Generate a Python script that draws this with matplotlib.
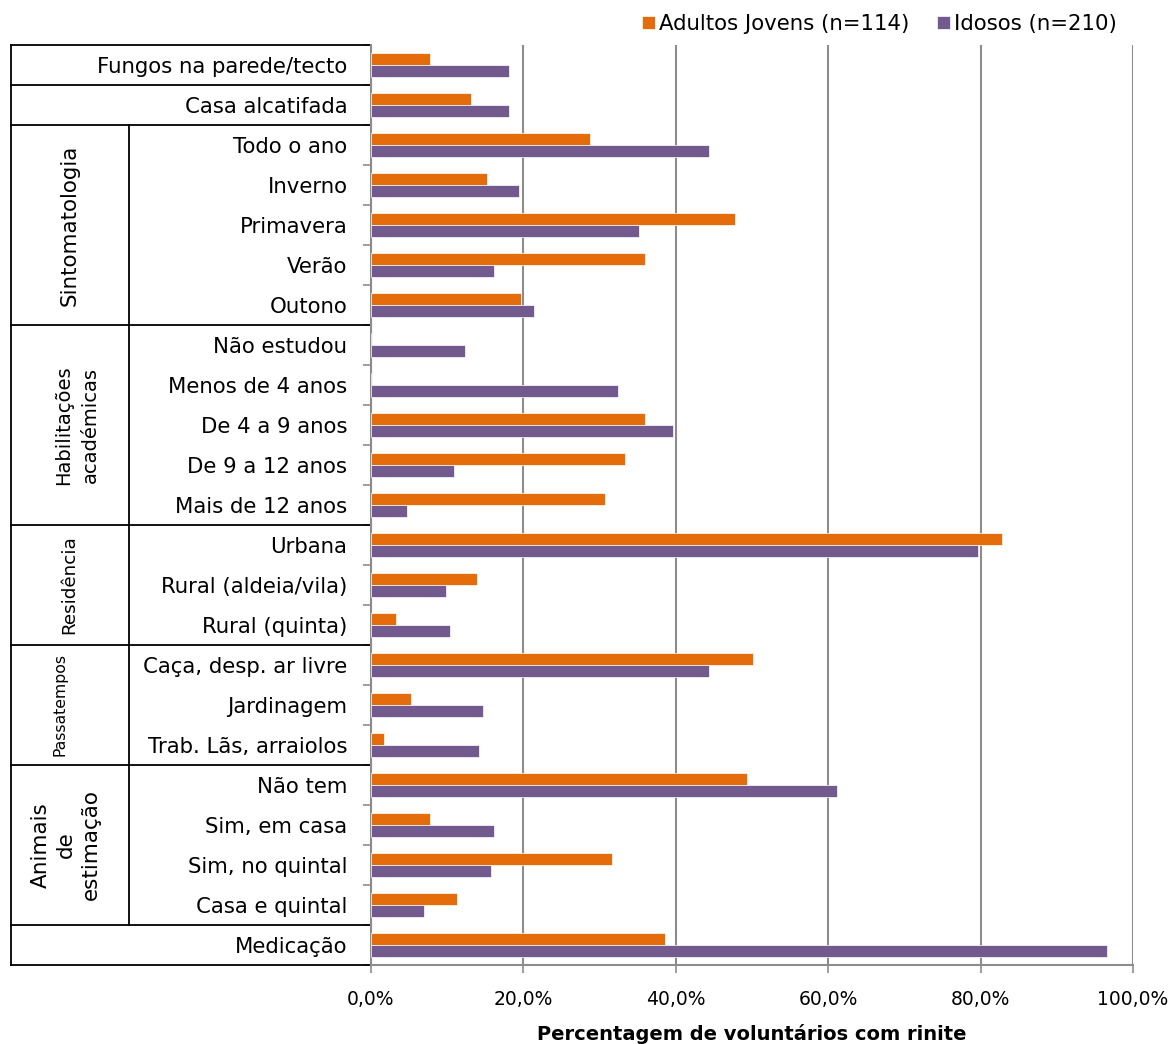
import numpy as np
import matplotlib.pyplot as plt

# categories top to bottom
labels = ["Fungos na parede/tecto", "Casa alcatifada",
          "Todo o ano", "Inverno", "Primavera", "Verão", "Outono",
          "Não estudou", "Menos de 4 anos", "De 4 a 9 anos", "De 9 a 12 anos", "Mais de 12 anos",
          "Urbana", "Rural (aldeia/vila)", "Rural (quinta)",
          "Caça, desp. ar livre", "Jardinagem", "Trab. Lãs, arraiolos",
          "Não tem", "Sim, em casa", "Sim, no quintal", "Casa e quintal",
          "Medicação"]

adultos = [7.8, 13.1, 28.8, 15.2, 47.8, 36.0, 19.7,
           0.0, 0.0, 36.0, 33.3, 30.7,
           82.8, 13.9, 3.3,
           50.1, 5.2, 1.7,
           49.3, 7.8, 31.6, 11.3,
           38.6]
idosos = [18.1, 18.1, 44.4, 19.4, 35.2, 16.1, 21.4,
          12.4, 32.4, 39.6, 10.9, 4.7,
          79.7, 9.9, 10.4,
          44.4, 14.7, 14.2,
          61.2, 16.1, 15.7, 6.9,
          96.6]

# groups: (text, first row, last row)
groups = [("Sintomatologia", 2, 6), ("Habilitações\nacadémicas", 7, 11),
          ("Residência", 12, 14), ("Passatempos", 15, 17),
          ("Animais\nde\nestimação", 18, 21)]

series_names = ["Adultos Jovens (n=114)", "Idosos (n=210)"]
orange = "#E46C0A"
purple = "#725A8E"
grid_col = "#8C8C8C"

plt.rcParams['font.family'] = 'DejaVu Sans'

fig = plt.figure(figsize=(11.73, 10.44), dpi=100)
W, H = 1173, 1044
x0, x1, ytop, ybot = 371, 1133, 45, 965
ax = fig.add_axes([x0 / W, 1 - ybot / H, (x1 - x0) / W, (ybot - ytop) / H])

n = len(labels)
y = np.arange(n)
h = 0.29
ax.barh(y - h / 2, adultos, height=h, color=orange, edgecolor="white", linewidth=0.5,
        label=series_names[0], zorder=3)
ax.barh(y + h / 2, idosos, height=h, color=purple, edgecolor="white", linewidth=0.5,
        label=series_names[1], zorder=3)

ax.set_ylim(n - 0.5, -0.5)
ax.set_xlim(0, 100)
ax.set_xticks(np.arange(0, 101, 20))
ax.set_xticklabels([f"{v:.1f}%".replace(".", ",") for v in range(0, 101, 20)], fontsize=13.5)
ax.tick_params(axis="x", length=6, color=grid_col, width=1.2, pad=12)
ax.xaxis.grid(True, color=grid_col, linewidth=1.5, zorder=0)

ax.set_yticks(y)
ax.set_yticklabels(labels, fontsize=15.3)
ax.tick_params(axis="y", which="major", length=0, pad=17)
ax.set_yticks(np.arange(-0.5, n, 1), minor=True)
ax.tick_params(axis="y", which="minor", length=6, color=grid_col, width=1.2)

for s in ["top", "right"]:
    ax.spines[s].set_visible(False)
for s in ["left", "bottom"]:
    ax.spines[s].set_color(grid_col)
    ax.spines[s].set_linewidth(1.5)

ax.set_xlabel("Percentagem de voluntários com rinite", fontsize=14, fontweight="bold", labelpad=11)

# table lines on the left
tr = ax.get_yaxis_transform()
xl = (11 - x0) / (x1 - x0)
xi = (129 - x0) / (x1 - x0)
for b in [-0.5, 0.5, 1.5, 6.5, 11.5, 14.5, 17.5, 21.5, 22.5]:
    ax.plot([xl, 0], [b, b], color="black", lw=1.3, transform=tr, clip_on=False)
ax.plot([xl, xl], [-0.5, 22.5], color="black", lw=1.3, transform=tr, clip_on=False)
ax.plot([xi, xi], [1.5, 21.5], color="black", lw=1.3, transform=tr, clip_on=False)

gsize = {"Sintomatologia": 15.4, "Habilitações\nacadémicas": 14, "Residência": 13.2,
         "Passatempos": 11.3, "Animais\nde\nestimação": 15.5}
gspace = {"Habilitações\nacadémicas": 1.55, "Animais\nde\nestimação": 1.3}
gx = {"Sintomatologia": 70, "Habilitações\nacadémicas": 77, "Residência": 69,
      "Passatempos": 60, "Animais\nde\nestimação": 66}
for text, a, b in groups:
    ax.text((gx[text] - x0) / (x1 - x0), (a + b) / 2, text, transform=tr, rotation=90,
            ha="center", va="center", multialignment="center",
            fontsize=gsize[text], linespacing=gspace.get(text, 1.2))

fig.legend(loc="center right", bbox_to_anchor=(1117 / W, 1 - 24 / H), ncol=2,
           frameon=False, fontsize=15.3, handlelength=0.6, handleheight=0.6,
           handletextpad=0.2, columnspacing=1.3, borderaxespad=0, borderpad=0)

fig.savefig("out.png", dpi=100)
